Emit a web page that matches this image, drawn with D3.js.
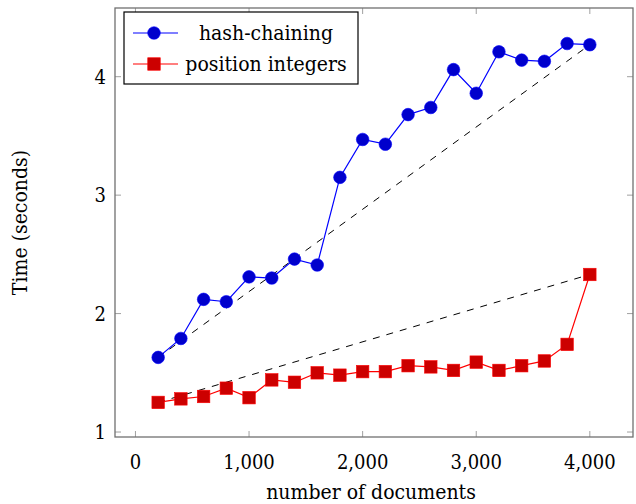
<!DOCTYPE html>
<html lang="en">
<head>
<meta charset="UTF-8">
<title>Time vs number of documents</title>
<script src="https://d3js.org/d3.v7.min.js"></script>
<style>
  body { margin: 0; background: #fff; }
</style>
</head>
<body>
<script>
// data
const docs = [200, 400, 600, 800, 1000, 1200, 1400, 1600, 1800, 2000,
              2200, 2400, 2600, 2800, 3000, 3200, 3400, 3600, 3800, 4000];
const hashChaining = [1.63, 1.79, 2.12, 2.10, 2.31, 2.30, 2.46, 2.41, 3.15, 3.47,
                      3.43, 3.68, 3.74, 4.06, 3.86, 4.21, 4.14, 4.13, 4.28, 4.27];
const positionIntegers = [1.25, 1.28, 1.30, 1.37, 1.29, 1.44, 1.42, 1.50, 1.48, 1.51,
                          1.51, 1.56, 1.55, 1.52, 1.59, 1.52, 1.56, 1.60, 1.74, 2.33];
const xTicks = [0, 1000, 2000, 3000, 4000];
const yTicks = [1, 2, 3, 4];
const seriesNames = ["hash-chaining", "position integers"];

const width = 636, height = 504;
const margin = { left: 115, right: 3, top: 8, bottom: 67 };
const serif = "'DejaVu Serif Condensed', 'DejaVu Serif', serif";

const svg = d3.select("body").append("svg")
    .attr("width", width)
    .attr("height", height)
    .style("font-family", serif)
    .style("font-stretch", "condensed");

const x = d3.scaleLinear().domain([-180, 4380]).range([margin.left, width - margin.right]);
const y = d3.scaleLinear().domain([0.958, 4.58]).range([height - margin.bottom, margin.top]);

const x0 = x.range()[0], x1 = x.range()[1];
const y0 = y.range()[0], y1 = y.range()[1];

// ticks (inward, on all four sides)
const tickLen = 6;
const grid = svg.append("g").attr("stroke", "#a0a0a0").attr("stroke-width", 1);
xTicks.forEach(t => {
  grid.append("line").attr("x1", x(t)).attr("x2", x(t)).attr("y1", y0).attr("y2", y0 - tickLen);
  grid.append("line").attr("x1", x(t)).attr("x2", x(t)).attr("y1", y1).attr("y2", y1 + tickLen);
});
yTicks.forEach(t => {
  grid.append("line").attr("y1", y(t)).attr("y2", y(t)).attr("x1", x0).attr("x2", x0 + tickLen);
  grid.append("line").attr("y1", y(t)).attr("y2", y(t)).attr("x1", x1).attr("x2", x1 - tickLen);
});

// frame
svg.append("rect")
    .attr("x", x0).attr("y", y1)
    .attr("width", x1 - x0).attr("height", y0 - y1)
    .attr("fill", "none").attr("stroke", "#707070").attr("stroke-width", 1.3);

// tick labels
const fmt = d3.format(",");
svg.append("g").selectAll("text").data(xTicks).enter().append("text")
    .attr("x", d => x(d)).attr("y", y0 + 32)
    .attr("text-anchor", "middle")
    .style("font-size", "20px")
    .text(d => fmt(d));
svg.append("g").selectAll("text").data(yTicks).enter().append("text")
    .attr("x", x0 - 9).attr("y", d => y(d)).attr("dy", "0.36em")
    .attr("text-anchor", "end")
    .style("font-size", "20px")
    .text(d => d);

// axis titles
svg.append("text")
    .attr("x", (x0 + x1) / 2 - 3).attr("y", 499)
    .attr("text-anchor", "middle")
    .style("font-size", "21px")
    .text("number of documents");
svg.append("text")
    .attr("transform", "translate(27," + ((y0 + y1) / 2) + ") rotate(-90)")
    .attr("text-anchor", "middle")
    .style("font-size", "21px")
    .text("Time (seconds)");

// dashed reference lines from first to last point
const refSeries = [hashChaining, positionIntegers];
refSeries.forEach(vals => {
  const n = vals.length - 1;
  svg.append("line")
      .attr("x1", x(docs[0])).attr("y1", y(vals[0]))
      .attr("x2", x(docs[n])).attr("y2", y(vals[n]))
      .attr("stroke", "#000").attr("stroke-width", 1)
      .attr("stroke-dasharray", "7,7");
});

const line = d3.line().x(d => x(d[0])).y(d => y(d[1]));

// hash-chaining
const hc = docs.map((d, i) => [d, hashChaining[i]]);
svg.append("path").datum(hc)
    .attr("d", line).attr("fill", "none")
    .attr("stroke", "#0000ff").attr("stroke-width", 1.2);
svg.append("g").selectAll("circle").data(hc).enter().append("circle")
    .attr("cx", d => x(d[0])).attr("cy", d => y(d[1])).attr("r", 6.3)
    .attr("fill", "#0000cc").attr("stroke", "#0000ff").attr("stroke-width", 0.6);

// position integers
const pi = docs.map((d, i) => [d, positionIntegers[i]]);
svg.append("path").datum(pi)
    .attr("d", line).attr("fill", "none")
    .attr("stroke", "#ff0000").attr("stroke-width", 1.2);
const sq = 12.5;
svg.append("g").selectAll("rect").data(pi).enter().append("rect")
    .attr("x", d => x(d[0]) - sq / 2).attr("y", d => y(d[1]) - sq / 2)
    .attr("width", sq).attr("height", sq)
    .attr("fill", "#cc0000").attr("stroke", "#ff0000").attr("stroke-width", 0.6);

// legend
const lg = svg.append("g").attr("transform", "translate(124,12)");
lg.append("rect").attr("width", 234).attr("height", 72)
    .attr("fill", "#fff").attr("stroke", "#000").attr("stroke-width", 1.2);
[0, 1].forEach(i => {
  const cy = 21 + i * 31;
  const col = i === 0 ? "#0000ff" : "#ff0000";
  lg.append("line").attr("x1", 9).attr("x2", 54).attr("y1", cy).attr("y2", cy)
      .attr("stroke", col).attr("stroke-width", 1.2);
  if (i === 0) {
    lg.append("circle").attr("cx", 30).attr("cy", cy).attr("r", 6.3)
        .attr("fill", "#0000cc").attr("stroke", "#0000ff").attr("stroke-width", 0.6);
  } else {
    lg.append("rect").attr("x", 30 - sq / 2).attr("y", cy - sq / 2)
        .attr("width", sq).attr("height", sq)
        .attr("fill", "#cc0000").attr("stroke", "#ff0000").attr("stroke-width", 0.6);
  }
  lg.append("text").attr("x", 142).attr("y", cy).attr("dy", "0.33em")
      .attr("text-anchor", "middle")
      .style("font-size", "21px")
      .text(seriesNames[i]);
});
</script>
</body>
</html>
